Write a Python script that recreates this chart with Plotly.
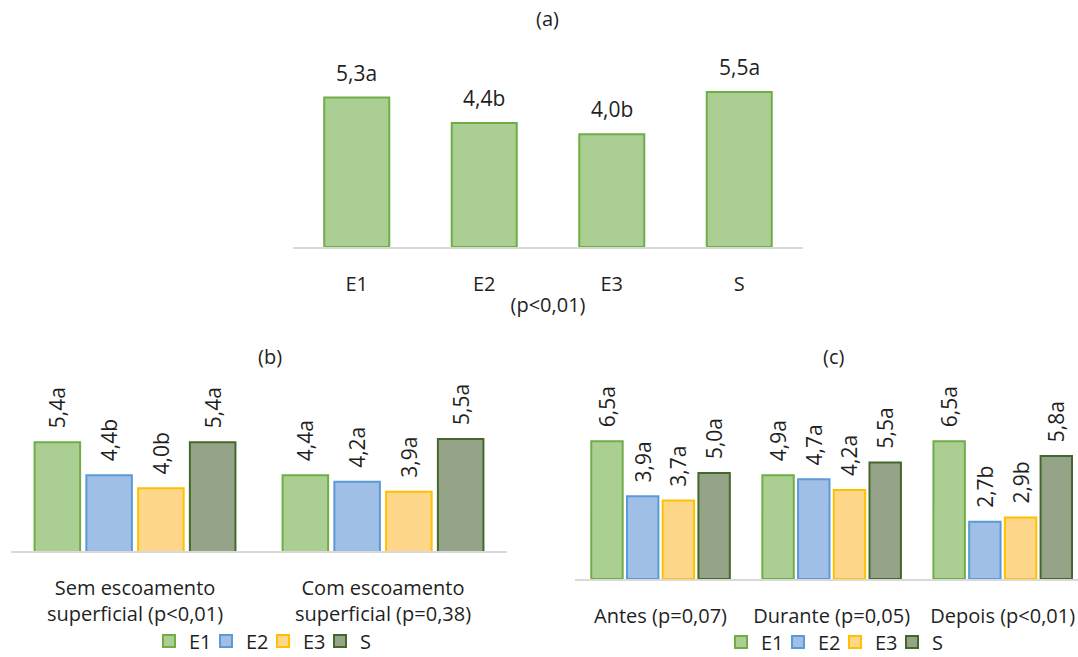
import plotly.graph_objects as go

# ---- data -------------------------------------------------------------
series = ["E1", "E2", "E3", "S"]

# (a) overall
cats_a = ["E1", "E2", "E3", "S"]
vals_a = [5.3, 4.4, 4.0, 5.5]
lets_a = ["a", "b", "b", "a"]

# (b) with / without surface runoff
cats_b = ["Sem escoamento<br>superficial (p&lt;0,01)",
          "Com escoamento<br>superficial (p=0,38)"]
b_e1 = [5.4, 4.4]
b_e2 = [4.4, 4.2]
b_e3 = [4.0, 3.9]
b_s = [5.4, 5.5]
b_e1_let = ["a", "a"]
b_e2_let = ["b", "a"]
b_e3_let = ["b", "a"]
b_s_let = ["a", "a"]

# (c) before / during / after
cats_c = ["Antes (p=0,07)", "Durante (p=0,05)", "Depois (p&lt;0,01)"]
c_e1 = [6.5, 4.9, 6.5]
c_e2 = [3.9, 4.7, 2.7]
c_e3 = [3.7, 4.2, 2.9]
c_s = [5.0, 5.5, 5.8]
c_e1_let = ["a", "a", "a"]
c_e2_let = ["a", "a", "b"]
c_e3_let = ["a", "a", "b"]
c_s_let = ["a", "a", "a"]

# ---- styling ----------------------------------------------------------
FILL = {"E1": "#abcf93", "E2": "#9fbfe7", "E3": "#ffd78b", "S": "#95a488"}
EDGE = {"E1": "#70ad47", "E2": "#5b9bd5", "E3": "#ffc000", "S": "#44682c"}
FONT = "Open Sans"
TXT = "#1f1f1f"
W, H = 1078, 657


def fmt(v, letter):
    return f"{v:.1f}".replace(".", ",") + letter


def px_x(p):
    return p / W


def px_y(p):
    return 1 - p / H


fig = go.Figure()

# (a)
fig.add_trace(go.Bar(
    x=cats_a, y=vals_a, width=0.51,
    marker=dict(color=FILL["E1"], line=dict(color=EDGE["E1"], width=2)),
    xaxis="x", yaxis="y", showlegend=False, hoverinfo="x+y",
))
for c, v, l in zip(cats_a, vals_a, lets_a):
    fig.add_annotation(x=c, y=v, xref="x", yref="y", text=fmt(v, l),
                       showarrow=False, yanchor="bottom", yshift=9,
                       font=dict(family=FONT, size=21, color=TXT))

# (b)
b_vals = [b_e1, b_e2, b_e3, b_s]
b_lets = [b_e1_let, b_e2_let, b_e3_let, b_s_let]
for name, vals, lets in zip(series, b_vals, b_lets):
    fig.add_trace(go.Bar(
        x=cats_b, y=vals, name=name,
        text=["\u00a0\u00a0" + fmt(v, l) for v, l in zip(vals, lets)],
        textposition="outside", textangle=-90, constraintext="none",
        textfont=dict(family=FONT, size=21, color=TXT),
        marker=dict(color=FILL[name], line=dict(color=EDGE[name], width=2)),
        xaxis="x2", yaxis="y2", legend="legend",
    ))

# (c)
c_vals = [c_e1, c_e2, c_e3, c_s]
c_lets = [c_e1_let, c_e2_let, c_e3_let, c_s_let]
for name, vals, lets in zip(series, c_vals, c_lets):
    fig.add_trace(go.Bar(
        x=cats_c, y=vals, name=name,
        text=["\u00a0\u00a0" + fmt(v, l) for v, l in zip(vals, lets)],
        textposition="outside", textangle=-90, constraintext="none",
        textfont=dict(family=FONT, size=21, color=TXT),
        marker=dict(color=FILL[name], line=dict(color=EDGE[name], width=2)),
        xaxis="x3", yaxis="y3", legend="legend2",
    ))

xcommon = dict(showline=True, linecolor="#d9d9d9", linewidth=2,
               showgrid=False, zeroline=False, ticks="",
               ticklabelstandoff=18, automargin=False,
               tickfont=dict(family=FONT, size=20, color=TXT))
ycommon = dict(visible=False, showgrid=False, zeroline=False,
               automargin=False)

legend_common = dict(orientation="h", xanchor="center", yanchor="middle",
                     entrywidth=12, entrywidthmode="pixels",
                     font=dict(family=FONT, size=20, color=TXT),
                     itemclick=False, bgcolor="rgba(0,0,0,0)")

fig.update_layout(
    width=W, height=H,
    margin=dict(l=0, r=0, t=0, b=0, autoexpand=False),
    paper_bgcolor="white", plot_bgcolor="white",
    barmode="group", bargap=0.165, bargroupgap=0.12,
    font=dict(family=FONT, size=20, color=TXT),
    xaxis=dict(domain=[px_x(293), px_x(803)], anchor="y",
               title=dict(text="(p&lt;0,01)", standoff=2,
                          font=dict(family=FONT, size=20, color=TXT)),
               **xcommon),
    yaxis=dict(domain=[px_y(247), px_y(49.6)], range=[0, 7], anchor="x",
               **ycommon),
    xaxis2=dict(domain=[px_x(11), px_x(507)], anchor="y2", **xcommon),
    yaxis2=dict(domain=[px_y(551), px_y(373)], range=[2.1, 7.5],
                anchor="x2", **ycommon),
    xaxis3=dict(domain=[px_x(575), 1.0], anchor="y3", range=[-0.5, 2.44],
                **xcommon),
    yaxis3=dict(domain=[px_y(579), px_y(375.5)], range=[0, 9.6],
                anchor="x3", **ycommon),
    legend=dict(x=px_x(263), y=px_y(641), **legend_common),
    legend2=dict(x=px_x(835), y=px_y(642), **legend_common),
)

# panel captions
for label, x, y in [("(a)", 547, 19), ("(b)", 270, 356), ("(c)", 833, 356)]:
    fig.add_annotation(x=px_x(x), y=px_y(y), xref="paper", yref="paper",
                       text=label, showarrow=False,
                       xanchor="center", yanchor="middle",
                       font=dict(family=FONT, size=20, color=TXT))

fig.write_html("out.html")
